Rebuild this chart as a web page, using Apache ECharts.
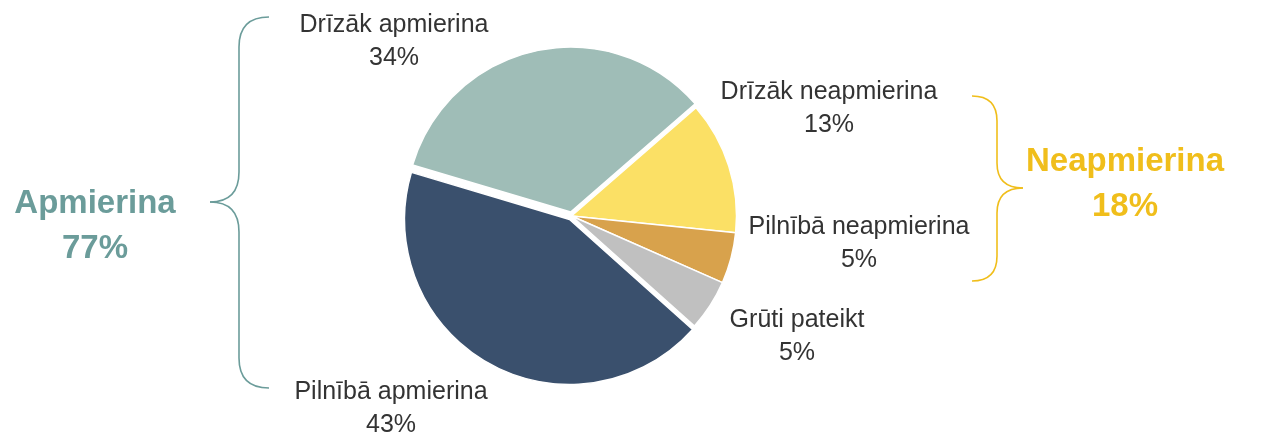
<!DOCTYPE html>
<html>
<head>
<meta charset="utf-8">
<script src="https://cdn.jsdelivr.net/npm/echarts@6/dist/echarts.min.js"></script>
<style>
  html, body { margin: 0; padding: 0; background: #fff; }
  #chart { width: 1266px; height: 433px; }
</style>
</head>
<body>
<div id="chart"></div>
<script>
// Survey answers, in clockwise order starting from the upper right
const categories = ['Drīzāk neapmierina', 'Pilnībā neapmierina', 'Grūti pateikt', 'Pilnībā apmierina', 'Drīzāk apmierina'];
const shares = [13, 5, 5, 43, 34];
const sliceColors = ['#FBE065', '#D8A24C', '#C0C0C0', '#3A506D', '#9FBDB7'];
const pulledOut = [false, false, false, true, true];

// Group totals shown beside the braces
const groupNames = ['Apmierina', 'Neapmierina'];
const groupShares = [77, 18];
const groupColors = ['#6B9C9A', '#F0BE1B'];

// Where each slice caption sits (centre of the two-line block)
const captionSpots = [
  [829, 108.5], [859, 243.5], [797, 336.5], [391, 408.5], [394, 41.5]
];

const FONT = '"Liberation Sans", Arial, sans-serif';

// A curly brace: ends at xEnd, spine at xMid, point at xTip
function brace(xEnd, xMid, xTip, yTop, yTip, yBot, r, color) {
  const st = { stroke: color, lineWidth: 1.6, fill: null };
  const q = (x1, y1, cx, cy, x2, y2) => ({
    type: 'bezierCurve',
    shape: { x1, y1, x2, y2, cpx1: cx, cpy1: cy },
    style: st
  });
  const l = (x1, y1, x2, y2) => ({ type: 'line', shape: { x1, y1, x2, y2 }, style: st });
  return [
    q(xEnd, yTop, xMid, yTop, xMid, yTop + r),
    l(xMid, yTop + r, xMid, yTip - r),
    q(xMid, yTip - r, xMid, yTip, xTip, yTip),
    q(xTip, yTip, xMid, yTip, xMid, yTip + r),
    l(xMid, yTip + r, xMid, yBot - r),
    q(xMid, yBot - r, xMid, yBot, xEnd, yBot)
  ];
}

const chart = echarts.init(document.getElementById('chart'), null, { renderer: 'canvas' });

const pieData = categories.map((name, i) => ({
  name,
  value: shares[i],
  selected: pulledOut[i],
  itemStyle: { color: sliceColors[i] }
}));

// Two-line caption (name + share) for every slice
const captions = categories.map((name, i) => ({
  type: 'text',
  x: captionSpots[i][0],
  y: captionSpots[i][1],
  style: {
    text: name + '\n' + shares[i] + '%',
    fill: '#333333',
    font: '25px ' + FONT,
    lineHeight: 33,
    align: 'center',
    verticalAlign: 'middle'
  }
}));

const groupLabel = (i, x, y) => ({
  type: 'text',
  x, y,
  style: {
    text: groupNames[i] + '\n' + groupShares[i] + '%',
    fill: groupColors[i],
    font: 'bold 33px ' + FONT,
    lineHeight: 45,
    align: 'center',
    verticalAlign: 'middle'
  }
});

chart.setOption({
  animation: false,
  backgroundColor: '#ffffff',
  series: [{
    type: 'pie',
    center: [571.5, 216],
    radius: 165,
    startAngle: 41,
    clockwise: true,
    selectedMode: 'multiple',
    selectedOffset: 4,
    emphasis: { disabled: true },
    itemStyle: { borderColor: '#ffffff', borderWidth: 1.5 },
    label: { show: false },
    labelLine: { show: false },
    data: pieData
  }],
  graphic: [
    ...brace(269, 239, 210, 17, 202, 388, 30, groupColors[0]),
    ...brace(972, 997, 1023, 96, 188, 281, 25, groupColors[1]),
    ...captions,
    groupLabel(0, 95, 226),
    groupLabel(1, 1125, 184)
  ]
});
</script>
</body>
</html>
